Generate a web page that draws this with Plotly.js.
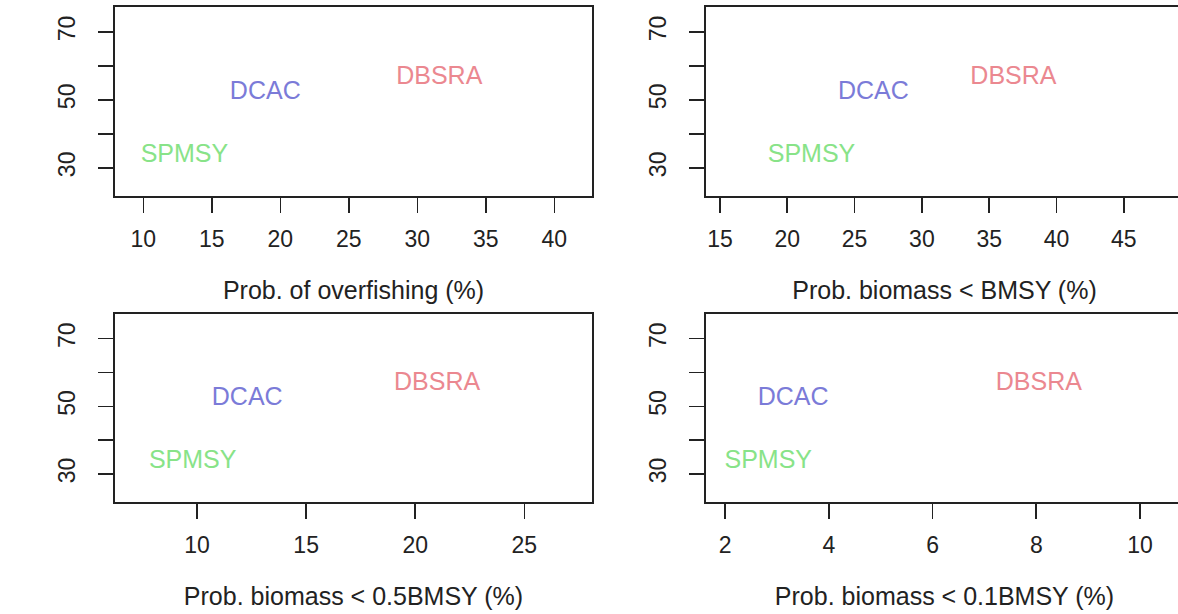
<!DOCTYPE html>
<html>
<head>
<meta charset="utf-8">
<script src="https://cdn.plot.ly/plotly-3.0.1.min.js"></script>
<style>
  html, body { margin: 0; padding: 0; background: #fff; overflow: hidden; }
  #plot { width: 1190px; height: 614px; }
</style>
</head>
<body>
<div id="plot"></div>
<script>
// Methods compared in each panel
const methods = ['SPMSY', 'DCAC', 'DBSRA'];
const methodColors = ['#88e388', '#7b7bd8', '#eb8890'];

// Shared vertical measure for every panel
const yValues = [33.5, 52.2, 56.6];

// Risk measures (%) for each method
const probOverfishing = [13.0, 18.9, 31.6];
const probBelowBmsy = [21.8, 26.4, 36.8];
const probBelowHalfBmsy = [9.8, 12.3, 21.0];
const probBelowTenthBmsy = [2.83, 3.31, 8.05];

const xTitles = [
  'Prob. of overfishing (%)',
  'Prob. biomass < BMSY (%)',
  'Prob. biomass < 0.5BMSY (%)',
  'Prob. biomass < 0.1BMSY (%)'
];

const W = 1190, H = 614;
const font = '"Liberation Sans", Arial, sans-serif';
const ink = '#222';

function labelTrace(xs, axisIdx) {
  const s = axisIdx === 1 ? '' : String(axisIdx);
  return {
    type: 'scatter', mode: 'text',
    x: xs, y: yValues, text: methods,
    textposition: 'middle center',
    textfont: { family: font, size: 25, color: methodColors },
    xaxis: 'x' + s, yaxis: 'y' + s,
    hoverinfo: 'skip', showlegend: false, cliponaxis: false
  };
}

const traces = [
  labelTrace(probOverfishing, 1),
  labelTrace(probBelowBmsy, 2),
  labelTrace(probBelowHalfBmsy, 3),
  labelTrace(probBelowTenthBmsy, 4)
];

// panel boxes in pixels: [left, right, top, bottom]
const boxes = [
  [115, 592, 7, 196],
  [706, 1183, 7, 196],
  [115, 592, 314, 502],
  [706, 1183, 314, 502]
];
const xRanges = [[7.93, 42.75], [13.96, 49.4], [6.24, 28.1], [1.63, 10.83]];
const xTicks = [[10, 15, 20, 25, 30, 35, 40], [15, 20, 25, 30, 35, 40, 45],
                [10, 15, 20, 25], [2, 4, 6, 8, 10]];
const yRange = [21.7, 77.3];
const yTickVals = [30, 40, 50, 60, 70];
const yTickText = ['30', '', '50', '', '70'];

const layout = {
  width: W, height: H,
  margin: { l: 0, r: 0, t: 0, b: 0 },
  paper_bgcolor: '#fff', plot_bgcolor: '#fff',
  font: { family: font, color: ink },
  showlegend: false
};

boxes.forEach((b, i) => {
  const s = i === 0 ? '' : String(i + 1);
  const common = {
    showline: true, mirror: true, linecolor: ink, linewidth: 1.6,
    showgrid: false, zeroline: false,
    ticks: 'outside', ticklen: 15, tickwidth: 1.6, tickcolor: ink,
    tickfont: { family: font, size: 23, color: ink },
    fixedrange: true
  };
  layout['xaxis' + s] = Object.assign({}, common, {
    domain: [b[0] / W, b[1] / W],
    range: xRanges[i],
    tickmode: 'array', tickvals: xTicks[i],
    ticklabelstandoff: 7,
    anchor: 'y' + s,
    title: { text: xTitles[i], font: { family: font, size: 25, color: ink }, standoff: 30 }
  });
  layout['yaxis' + s] = Object.assign({}, common, {
    domain: [(H - b[3]) / H, (H - b[2]) / H],
    range: yRange,
    tickmode: 'array', tickvals: yTickVals, ticktext: yTickText,
    tickangle: -90,
    ticklabelstandoff: 14,
    anchor: 'x' + s
  });
});

Plotly.newPlot('plot', traces, layout, { staticPlot: true, displayModeBar: false });
</script>
</body>
</html>
